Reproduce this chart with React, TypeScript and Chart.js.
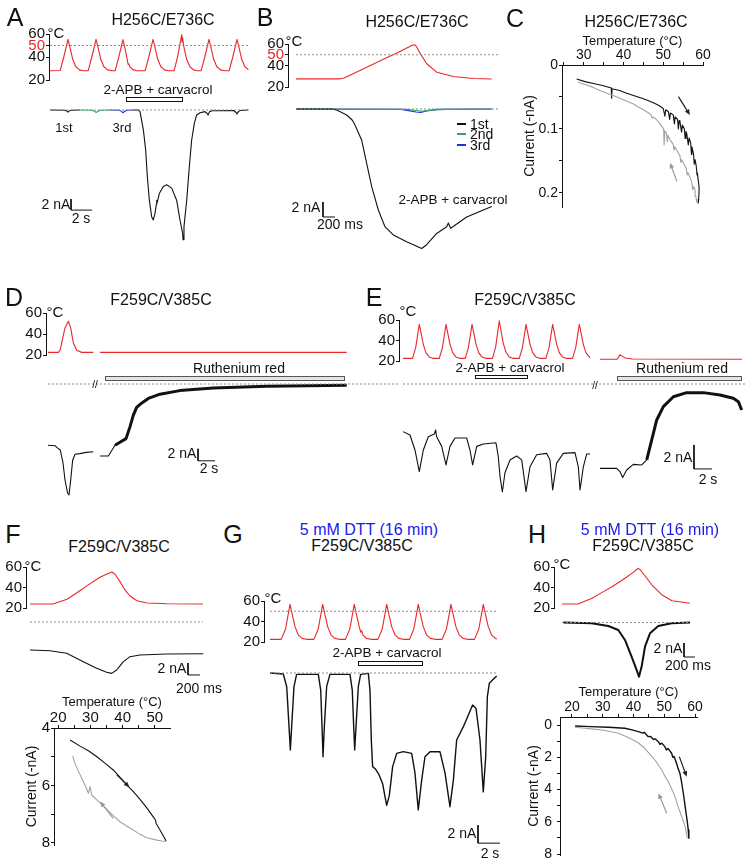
import React, { useEffect, useRef } from "react";
import { Chart, registerables } from "chart.js";

Chart.register(...registerables);

type Pt = [number, number];

const FONT = "'Liberation Sans', Arial, Helvetica, sans-serif";
Chart.defaults.font.family = FONT;
Chart.defaults.color = "#111";

const RED = "#e8282b";
const GREEN = "#2fa866";
const BLUE = "#1f33d6";
const BLACK = "#111111";
const GRAY = "#a3a3a3";
const DOTTED = "#8c8c8c";
const DTT_BLUE = "#1a1ae6";

// ---------- tick values ----------
const tempTicksRed50 = [20, 40, 50, 60];
const tempTicks = [20, 40, 60];
const redTickValues = [50];
const cTempTicks = [25, 30, 35, 40, 45, 50, 55, 60];
const cTempLabels = [30, 40, 50, 60];
const cCurTicks = [0, 0.05, 0.1, 0.15, 0.2];
const cCurLabels = [0, 0.1, 0.2];
const fTempTicks = [20, 25, 30, 35, 40, 45, 50];
const fTempLabels = [20, 30, 40, 50];
const fCurTicks = [4, 5, 6, 7, 8];
const fCurLabels = [4, 6, 8];
const hTempTicks = [20, 25, 30, 35, 40, 45, 50, 55, 60];
const hTempLabels = [20, 30, 40, 50, 60];
const hCurTicks = [0, 1, 2, 3, 4, 5, 6, 7, 8];
const hCurLabels = [0, 2, 4, 6, 8];

// ---------- Panel A : H256C/E736C (time s, °C, nA) ----------
const tempA: Pt[] = [
  [0, 28], [0.96, 28.2], [1.31, 40], [1.71, 55.4], [1.91, 48], [2.16, 38], [2.46, 31.5], [2.81, 28.8], [3.21, 28],
  [3.63, 28], [3.98, 40], [4.38, 55.4], [4.58, 48], [4.83, 38], [5.13, 31.5], [5.48, 28.8], [5.88, 28],
  [6.2, 28], [6.55, 40], [6.95, 55.2], [7.15, 47], [7.35, 38], [7.44, 33.5], [7.5, 34], [7.6, 31.5], [7.9, 29], [8.3, 28],
  [9.06, 28], [9.41, 40], [9.81, 55.4], [10.01, 48], [10.26, 38], [10.56, 31.5], [10.91, 28.8], [11.31, 28],
  [11.82, 28], [12.17, 41], [12.55, 59.5], [12.58, 53], [12.62, 57], [12.77, 48], [13.02, 38], [13.32, 31.5], [13.67, 28.8], [14.07, 28],
  [14.39, 28], [14.74, 40], [15.14, 55.4], [15.34, 48], [15.59, 38], [15.89, 31.5], [16.24, 28.8], [16.64, 28],
  [17.06, 28], [17.41, 40], [17.81, 55.4], [18.01, 48], [18.26, 38], [18.56, 31.5], [18.9, 29],
];
const curA1st: Pt[] = [[0, 0], [1.4, -0.05], [1.6, -0.2], [1.71, -0.4], [1.85, -0.15], [2.1, -0.05], [2.86, 0]];
const curA2nd: Pt[] = [[2.86, 0], [4.0, -0.05], [4.25, -0.25], [4.4, -0.45], [4.55, -0.25], [4.8, -0.05], [5.6, 0]];
const curA3rd: Pt[] = [[5.6, 0], [6.6, -0.05], [6.8, -0.25], [6.95, -0.5], [7.1, -0.25], [7.35, -0.05], [7.85, 0]];
const curADrug: Pt[] = [
  [7.85, 0], [8.4, 0], [8.57, -0.3], [8.89, -3.6], [9.11, -7.3], [9.27, -12.1], [9.46, -16.4], [9.68, -19.4], [9.84, -20],
  [10.0, -18.8], [10.12, -17.2], [10.16, -16.4], [10.2, -16.9], [10.41, -15.2], [10.79, -13.9], [11.11, -13.6], [11.59, -14.2],
  [12.06, -16.4], [12.38, -20], [12.63, -22.4], [12.67, -23.6], [12.76, -21.2], [13.02, -16.4], [13.27, -10.3], [13.49, -5.5],
  [13.75, -2.4], [13.97, -0.9], [14.29, -0.5], [14.76, -0.3], [14.95, -0.6], [15.05, -0.9], [15.2, -0.3], [15.43, -0.15],
  [17.5, -0.1], [17.7, -0.4], [17.81, -0.7], [17.95, -0.3], [18.1, -0.1], [18.9, 0],
];
const baseA: Pt[] = [[0, 0], [19.05, 0]];
const hotLineA: Pt[] = [[0, 50], [19.05, 50]];
const barA = { t: 2.0, i: -18.2, dt: 2, di: 2 };

// ---------- Panel B : H256C/E736C (time ms) ----------
const tempB: Pt[] = [
  [0, 27.6], [733, 27.6], [800, 28.3], [900, 31], [1100, 36.3], [1300, 41.6], [1500, 46.9], [1700, 52.2], [1880, 57.2],
  [1933, 58.8], [1975, 59.3], [2010, 57.5], [2067, 51.5], [2178, 41.6], [2345, 33.8], [2622, 29.8], [2955, 27.9], [3262, 27.4],
];
const curB1st: Pt[] = [
  [0, 0], [600, 0], [678, -0.13], [845, -0.8], [900, -1.2], [940, -1.5], [983, -2.13], [1094, -4.13], [1178, -7.24],
  [1262, -10.36], [1372, -13.47], [1483, -15.7], [1622, -16.8], [1845, -17.7], [2095, -18.6], [2178, -18.1],
  [2345, -16.6], [2512, -15.7], [2539, -15.2], [2578, -15.9], [2845, -14.4], [3262, -13.0],
];
const curB2nd: Pt[] = [[0, 0], [1850, -0.05], [2000, -0.2], [2100, -0.3], [2250, -0.15], [2500, -0.05], [3262, 0]];
const curB3rd: Pt[] = [[0, 0], [1750, -0.05], [1900, -0.25], [2000, -0.4], [2080, -0.45], [2180, -0.25], [2350, -0.05], [3262, 0]];
const baseB: Pt[] = [[0, 0], [3400, 0]];
const hotLineB: Pt[] = [[0, 50], [3400, 50]];
const barB = { t: 450, i: -14.4, dt: 200, di: 2 };

// ---------- Panel C : current vs temperature ----------
const cHeat: Pt[] = [
  [28.2, 0.022], [30.3, 0.026], [32.4, 0.029], [34.7, 0.032], [36.9, 0.036], [37.0, 0.052], [37.1, 0.037], [39, 0.04],
  [40.8, 0.044], [42.7, 0.048], [44.6, 0.052], [46, 0.055], [47.5, 0.059], [48.8, 0.063], [50, 0.068], [50.4, 0.08],
  [50.6, 0.07], [51.3, 0.073], [51.6, 0.085], [51.8, 0.075], [52.5, 0.078], [52.8, 0.092], [53, 0.081], [53.6, 0.085],
  [53.8, 0.1], [54, 0.087], [54.2, 0.089], [54.6, 0.105], [54.8, 0.094], [55.3, 0.1], [55.5, 0.115], [55.7, 0.104],
  [55.9, 0.107], [56.3, 0.125], [56.5, 0.114], [56.9, 0.122], [57.1, 0.14], [57.2, 0.128], [57.6, 0.138], [57.8, 0.155],
  [58, 0.148], [58.3, 0.158], [58.5, 0.172], [58.6, 0.169], [58.8, 0.18], [59, 0.19], [59.0, 0.2], [58.9, 0.21], [58.8, 0.216],
];
const cCool: Pt[] = [
  [58.8, 0.216], [58.4, 0.214], [58.2, 0.205], [58, 0.195], [57.6, 0.19], [57.4, 0.195], [57.2, 0.184], [56.7, 0.175],
  [56.2, 0.168], [56, 0.172], [55.8, 0.162], [55.1, 0.154], [54.6, 0.148], [54.4, 0.152], [54.2, 0.142], [53.4, 0.133],
  [52.9, 0.128], [52.7, 0.133], [52.5, 0.124], [51.7, 0.117], [51.2, 0.11], [51, 0.12], [50.8, 0.107], [50.4, 0.103],
  [50.2, 0.125], [50.1, 0.1], [50, 0.099], [49.2, 0.092], [48.4, 0.086], [47.5, 0.081], [47.2, 0.083], [46.8, 0.077],
  [45.8, 0.073], [44.5, 0.068], [43.8, 0.066], [42.5, 0.061], [41, 0.057], [39.1, 0.052], [37.5, 0.048], [35.8, 0.044],
  [34, 0.04], [32.4, 0.035], [30.5, 0.031], [29, 0.0276], [28.5, 0.026],
];
const cArrowHeat = { from: [53.8, 0.0495] as Pt, to: [56.7, 0.078] as Pt };
const cArrowCool = { from: [53.4, 0.182] as Pt, to: [51.7, 0.153] as Pt };

// ---------- Panel D : F259C/V385C (time s) ----------
const tempD1: Pt[] = [
  [0, 22.5], [1.22, 22.5], [1.45, 25], [1.61, 31.5], [2.0, 45.8], [2.39, 52.2], [2.67, 45.8], [2.98, 31.5], [3.37, 24.5],
  [3.96, 22.5], [5.33, 22.5],
];
const tempD2: Pt[] = [[6.12, 22.5], [35.14, 22.5]];
const curD1: Pt[] = [
  [0, -10.2], [0.86, -10.3], [1.06, -10.6], [1.45, -11], [1.77, -13.2], [2.0, -16], [2.31, -18.2], [2.47, -18.5],
  [2.67, -16], [2.9, -12.7], [3.18, -11.7], [3.76, -11.6], [4.5, -11.4], [5.33, -11.3],
];
const curD2Start: Pt[] = [[6.12, -12], [7.1, -12], [7.41, -11.3], [7.88, -10.2]];
const curD2RR: Pt[] = [
  [7.88, -10.2], [8.47, -9.7], [9.18, -9.1], [9.65, -7.1], [10.04, -5.2], [10.43, -3.9], [11.0, -3.2], [11.8, -2.4],
  [13.18, -1.7], [15.5, -1.1], [19.45, -0.67], [25.73, -0.39], [35.14, -0.22],
];
const baseD: Pt[] = [[0, 0], [41.2, 0]];
const barD = { t: 17.65, i: -12.8, dt: 2, di: 2 };

// ---------- Panel E : F259C/V385C (time s) ----------
const tempE1: Pt[] = [
  [0, 22.6], [1.06, 22.6], [1.41, 33], [1.81, 55.8], [2.01, 47], [2.26, 36], [2.56, 28], [2.91, 24], [3.31, 22.6],
  [4.03, 22.6], [4.38, 33], [4.78, 55.8], [4.98, 47], [5.23, 36], [5.53, 28], [5.88, 24], [6.28, 22.6],
  [6.92, 22.6], [7.27, 33], [7.67, 55.8], [7.87, 47], [8.12, 36], [8.42, 28], [8.77, 24], [9.17, 22.6],
  [9.95, 22.6], [10.3, 34], [10.7, 59.3], [10.9, 49], [11.15, 37], [11.45, 28.5], [11.8, 24], [12.2, 22.6],
  [12.92, 22.6], [13.27, 33], [13.67, 55.8], [13.87, 47], [14.12, 36], [14.42, 28], [14.77, 24], [15.17, 22.6],
  [15.88, 22.6], [16.23, 33], [16.63, 55.8], [16.83, 47], [17.08, 36], [17.38, 28], [17.73, 24], [18.13, 22.6],
  [18.84, 22.6], [19.19, 33], [19.59, 55.8], [19.79, 47], [20.04, 36], [20.34, 28], [20.78, 23],
];
const tempE2: Pt[] = [[21.89, 21.7], [23.8, 21.7], [24.0, 24.5], [24.1, 26], [24.3, 25], [24.7, 23], [25.5, 22], [37.67, 21.7]];
const curE1: Pt[] = [
  [0, -3.97], [0.78, -4.25], [1.33, -5.5], [1.81, -7.3], [2.26, -5.5], [2.81, -4.4], [3.48, -4.17], [3.63, -3.83],
  [3.74, -4.4], [4.3, -5.2], [4.78, -6.75], [5.22, -5.2], [5.78, -4.5], [7.07, -4.5], [7.44, -5.5], [7.74, -6.75],
  [8.19, -5.2], [8.93, -5.0], [10.33, -4.9], [10.59, -6.06], [10.78, -7.7], [11.04, -9.0], [11.33, -7.4], [11.89, -6.33],
  [12.63, -6.0], [13.19, -6.33], [13.67, -8.97], [14.11, -6.9], [14.85, -5.9], [15.96, -5.78], [16.33, -6.33],
  [16.63, -8.83], [17.07, -6.6], [17.81, -5.78], [19.11, -5.72], [19.48, -6.9], [19.67, -8.83], [20.04, -6.9],
  [20.41, -5.83], [20.78, -5.83],
];
const curE2Start: Pt[] = [
  [21.89, -7.03], [23.74, -7.03], [24.11, -7.3], [24.41, -7.8], [24.85, -7.17], [25.59, -6.7], [26.52, -6.75], [27.08, -6.33],
];
const curE2RR: Pt[] = [
  [27.08, -6.33], [27.63, -4.67], [28.19, -3.0], [28.93, -1.89], [30.04, -1.06], [31.52, -0.72], [33.37, -0.72],
  [35.22, -0.92], [36.7, -1.19], [37.26, -1.47], [37.63, -2.17],
];
const baseE: Pt[] = [[0, 0], [38.0, 0]];
const barE = { t: 32.33, i: -7.08, dt: 2, di: 2 };

// ---------- Panel F : F259C/V385C (time ms) ----------
const tempF: Pt[] = [
  [0, 23.9], [383, 23.9], [617, 28.5], [783, 34.9], [950, 41.8], [1167, 50], [1283, 53.2], [1367, 55.1], [1417, 52.9],
  [1500, 45.7], [1583, 37.6], [1667, 31.7], [1783, 27.1], [1950, 24.9], [2283, 24.2], [2883, 23.9],
];
const curF: Pt[] = [
  [0, -4.67], [333, -4.78], [611, -5.22], [889, -6.61], [1111, -7.72], [1278, -8.39], [1361, -8.56], [1444, -8.0],
  [1500, -7.3], [1556, -6.61], [1667, -5.78], [1833, -5.5], [2278, -5.33], [2889, -5.28],
];
const baseF: Pt[] = [[0, 0], [2883, 0]];
const barF = { t: 2633, i: -8.83, dt: 200, di: 2 };
const fHeat: Pt[] = [
  [23.7, 4.42], [26.8, 4.63], [29.5, 4.8], [32.0, 5.0], [34.5, 5.22], [37.1, 5.46], [39.2, 5.72], [41.3, 5.98],
  [43.4, 6.22], [45.4, 6.48], [47.5, 6.78], [49.5, 7.09], [50.2, 7.2], [50.4, 7.32], [51.6, 7.55], [52.6, 7.75], [53.5, 7.93],
];
const fCool: Pt[] = [
  [53.5, 7.95], [52.2, 7.93], [50.6, 7.9], [47.5, 7.82], [45.4, 7.7], [43.3, 7.55], [41.2, 7.41], [39.2, 7.26],
  [37.1, 7.05], [35.1, 6.83], [33.5, 6.66], [32.0, 6.5], [30.4, 6.33], [29.9, 6.04], [29.4, 6.27], [28.3, 5.98],
  [26.8, 5.63], [25.2, 5.23], [24.5, 4.97],
];
const fArrowHeat = { from: [38.2, 5.63] as Pt, to: [42.1, 6.06] as Pt };
const fArrowCool = { from: [37.1, 7.14] as Pt, to: [33.0, 6.56] as Pt };

// ---------- Panel G : 5 mM DTT, F259C/V385C (time s) ----------
const tempG: Pt[] = [
  [0, 22.6], [1.02, 22.6], [1.42, 33], [1.82, 56.8], [2.02, 47], [2.27, 35], [2.57, 27], [2.92, 23.5], [3.32, 22.6],
  [3.99, 22.6], [4.39, 33], [4.79, 56.8], [4.99, 47], [5.24, 35], [5.54, 27], [5.89, 23.5], [6.29, 22.6],
  [6.86, 22.6], [7.26, 33], [7.66, 56.8], [7.86, 47], [8.11, 35], [8.25, 29.5], [8.33, 31], [8.45, 27], [8.76, 23.5], [9.16, 22.6],
  [9.81, 22.6], [10.21, 33], [10.61, 56.8], [10.81, 47], [11.06, 35], [11.36, 27], [11.71, 23.5], [12.11, 22.6],
  [12.68, 22.6], [13.08, 33], [13.48, 56.8], [13.68, 47], [13.93, 35], [14.23, 27], [14.58, 23.5], [14.98, 22.6],
  [15.65, 22.6], [16.05, 33], [16.45, 56.8], [16.65, 47], [16.9, 35], [17.2, 27], [17.55, 23.5], [17.95, 22.6],
  [18.59, 22.6], [18.99, 33], [19.39, 56.8], [19.59, 47], [19.84, 35], [20.14, 27], [20.49, 23.5], [20.64, 23],
];
const curG: Pt[] = [
  [0, 0], [1.21, -0.11], [1.52, -1.52], [1.73, -5.96], [1.85, -8.56], [1.97, -5.96], [2.18, -1.52], [2.42, -0.15],
  [4.39, -0.15], [4.61, -1.89], [4.73, -5.96], [4.82, -9.3], [4.94, -5.96], [5.15, -1.52], [5.45, -0.15],
  [7.27, -0.15], [7.48, -1.89], [7.61, -5.96], [7.7, -8.56], [7.82, -5.96], [8.03, -1.52], [8.24, -0.15],
  [8.94, -0.04], [9.09, -1.89], [9.21, -7.44], [9.33, -10.4], [9.61, -10.7], [9.91, -11.3], [10.24, -12.3],
  [10.45, -13.7], [10.61, -14.7], [10.85, -13.6], [11.15, -10.4], [11.52, -8.93], [12.12, -8.74], [12.88, -8.93],
  [13.18, -11.1], [13.48, -15.2], [13.79, -11.9], [14.09, -9.3], [14.55, -8.74], [15.45, -8.74], [15.91, -11.1],
  [16.36, -14.85], [16.67, -11.9], [16.97, -7.44], [17.58, -5.96], [18.42, -3.56], [18.73, -3.93], [19.09, -7.44],
  [19.39, -13.2], [19.61, -9.3], [19.76, -2.63], [19.94, -1.15], [20.3, -0.7], [20.61, -0.33],
];
const baseG: Pt[] = [[0, 0], [20.64, 0]];
const hotLineG: Pt[] = [[0, 50], [20.64, 50]];
const barG = { t: 18.91, i: -18.9, dt: 2, di: 2 };

// ---------- Panel H : 5 mM DTT, F259C/V385C (time ms) ----------
const tempH: Pt[] = [
  [0, 23.9], [291, 23.9], [545, 29.5], [722, 35], [909, 40.8], [1145, 49], [1300, 55], [1382, 58.5], [1420, 57.5],
  [1473, 53.9], [1636, 42.4], [1818, 32.7], [2000, 27.1], [2327, 24.6],
];
const curH: Pt[] = [
  [24, 0], [539, -0.1], [842, -0.5], [1024, -1.07], [1145, -2.5], [1267, -4.9], [1358, -6.8], [1400, -7.74],
  [1448, -6.3], [1509, -3.46], [1600, -1.55], [1751, -0.5], [1994, -0.1], [2327, 0],
];
const baseH: Pt[] = [[0, 0], [2327, 0]];
const barH = { t: 2218, i: -4.93, dt: 200, di: 2 };
const hHeat: Pt[] = [
  [21.0, 0.06], [26, 0.1], [31.8, 0.14], [37.2, 0.2], [39.5, 0.3], [41.6, 0.41], [43, 0.5], [43.5, 0.45], [44.8, 0.72],
  [45.5, 0.7], [46.5, 0.9], [47, 0.85], [48.1, 1.03], [48.6, 1.2], [49.2, 1.12], [50.2, 1.34], [50.7, 1.55], [51.2, 1.45],
  [52.4, 1.75], [52.8, 2.0], [53.2, 1.95], [54.0, 2.37], [54.5, 2.7], [55.1, 2.99], [55.6, 3.5], [56.2, 4.23],
  [56.7, 4.9], [57.1, 5.47], [57.5, 6.0], [57.8, 6.51], [58.0, 7.02],
];
const hCool: Pt[] = [
  [57.5, 7.02], [56.8, 6.3], [56, 5.85], [55.1, 5.37], [54.3, 4.95], [53.5, 4.44], [52.4, 3.95], [51.3, 3.51],
  [50.3, 3.2], [49.2, 2.79], [48, 2.45], [47.0, 2.17], [45.3, 1.8], [43.7, 1.44], [41.5, 1.1], [39.4, 0.88],
  [37.2, 0.68], [35.1, 0.51], [32.4, 0.4], [29.7, 0.31], [27, 0.25], [24.2, 0.2], [21.0, 0.14],
];
const hArrowHeat = { from: [54.9, 1.96] as Pt, to: [57.3, 3.2] as Pt };
const hArrowCool = { from: [50.8, 5.47] as Pt, to: [48.1, 4.23] as Pt };

// ================= components =================
interface Line { data: Pt[]; color: string; width?: number; dash?: number[] }
interface Box { left: number; top: number; right: number; bottom: number }
interface Arrow { from: Pt; to: Pt; color: string }

const PAD = 12;
const AXW = 30;

function toDatasets(lines: Line[]) {
  return lines.map((l) => ({
    data: l.data.map(([x, y]) => ({ x, y })),
    showLine: true,
    borderColor: l.color,
    backgroundColor: l.color,
    borderWidth: l.width ?? 1.1,
    borderDash: l.dash ?? [],
    pointRadius: 0,
    pointHoverRadius: 0,
    tension: 0,
    clip: false,
    fill: false,
    borderJoinStyle: "round",
  }));
}

function scaleBar(b: { t: number; i: number; dt: number; di: number }): Line {
  return { data: [[b.t, b.i + b.di], [b.t, b.i], [b.t + b.dt, b.i]], color: BLACK, width: 1 };
}

const arrowPlugin = {
  id: "arrows",
  afterDatasetsDraw(chart: any, _args: any, opts: any) {
    const list: Arrow[] = (opts && opts.list) || [];
    const ctx = chart.ctx;
    const xs = chart.scales.x;
    const ys = chart.scales.y;
    for (const a of list) {
      const x1 = xs.getPixelForValue(a.from[0]);
      const y1 = ys.getPixelForValue(a.from[1]);
      const x2 = xs.getPixelForValue(a.to[0]);
      const y2 = ys.getPixelForValue(a.to[1]);
      const ang = Math.atan2(y2 - y1, x2 - x1);
      const hl = 6;
      ctx.save();
      ctx.strokeStyle = a.color;
      ctx.fillStyle = a.color;
      ctx.lineWidth = 1.2;
      ctx.beginPath();
      ctx.moveTo(x1, y1);
      ctx.lineTo(x2 - hl * 0.7 * Math.cos(ang), y2 - hl * 0.7 * Math.sin(ang));
      ctx.stroke();
      ctx.beginPath();
      ctx.moveTo(x2, y2);
      ctx.lineTo(x2 - hl * Math.cos(ang - 0.42), y2 - hl * Math.sin(ang - 0.42));
      ctx.lineTo(x2 - hl * Math.cos(ang + 0.42), y2 - hl * Math.sin(ang + 0.42));
      ctx.closePath();
      ctx.fill();
      ctx.restore();
    }
  },
};

function TraceChart(props: {
  box: Box; x: [number, number]; y: [number, number]; lines: Line[]; axisTicks?: number[]; redTicks?: number[];
}) {
  const { box, x, y, lines, axisTicks, redTicks = [] } = props;
  const ref = useRef<HTMLCanvasElement | null>(null);
  const leftSpace = axisTicks ? AXW : PAD;
  const w = leftSpace + (box.right - box.left) + PAD;
  const h = PAD + (box.bottom - box.top) + PAD;
  useEffect(() => {
    const yScale: any = axisTicks
      ? {
          type: "linear",
          position: "left",
          min: y[0],
          max: y[1],
          afterFit: (s: any) => { s.width = AXW; },
          afterBuildTicks: (s: any) => { s.ticks = axisTicks.map((v) => ({ value: v })); },
          border: { display: true, color: BLACK, width: 1 },
          grid: { display: true, drawOnChartArea: false, drawTicks: true, tickLength: 3, color: BLACK, lineWidth: 1 },
          ticks: {
            autoSkip: false,
            padding: 1,
            font: { size: 15, family: FONT, lineHeight: 1 },
            color: (c: any) => (redTicks.includes(c.tick && c.tick.value) ? RED : BLACK),
            callback: (v: any) => String(v),
          },
        }
      : { type: "linear", display: false, min: y[0], max: y[1] };
    const chart = new Chart(ref.current as HTMLCanvasElement, {
      type: "scatter",
      data: { datasets: toDatasets(lines) as any },
      options: {
        animation: false,
        responsive: false,
        events: [],
        layout: { padding: { left: axisTicks ? 0 : PAD, right: PAD, top: PAD, bottom: PAD } },
        plugins: { legend: { display: false }, tooltip: { enabled: false } },
        scales: { x: { type: "linear", display: false, min: x[0], max: x[1] }, y: yScale },
      } as any,
    });
    return () => chart.destroy();
  }, []);
  return (
    <canvas
      ref={ref}
      width={w}
      height={h}
      style={{ position: "absolute", left: box.left - leftSpace, top: box.top - PAD, width: w, height: h }}
    />
  );
}

function XYChart(props: {
  box: Box; x: [number, number]; y: [number, number]; xTicks: number[]; xLabels: number[]; yTicks: number[];
  yLabels: number[]; topH: number; leftW: number; yPad: number; tickSize: number; lines: Line[]; arrows: Arrow[];
}) {
  const { box, x, y, xTicks, xLabels, yTicks, yLabels, topH, leftW, yPad, tickSize, lines, arrows } = props;
  const ref = useRef<HTMLCanvasElement | null>(null);
  const w = leftW + (box.right - box.left) + PAD;
  const h = topH + (box.bottom - box.top) + PAD;
  useEffect(() => {
    const chart = new Chart(ref.current as HTMLCanvasElement, {
      type: "scatter",
      data: { datasets: toDatasets(lines) as any },
      plugins: [arrowPlugin],
      options: {
        animation: false,
        responsive: false,
        events: [],
        layout: { padding: { left: 0, top: 0, right: PAD, bottom: PAD } },
        plugins: { legend: { display: false }, tooltip: { enabled: false }, arrows: { list: arrows } },
        scales: {
          x: {
            type: "linear",
            position: "top",
            min: x[0],
            max: x[1],
            afterFit: (s: any) => { s.height = topH; },
            afterBuildTicks: (s: any) => { s.ticks = xTicks.map((v) => ({ value: v })); },
            border: { display: true, color: BLACK, width: 1 },
            grid: { display: true, drawOnChartArea: false, drawTicks: true, tickLength: 3, color: BLACK },
            ticks: {
              autoSkip: false,
              maxRotation: 0,
              padding: 0,
              color: BLACK,
              font: { size: tickSize, family: FONT, lineHeight: 1 },
              callback: (v: any) => (xLabels.includes(v) ? String(v) : ""),
            },
            title: { display: true, text: "Temperature (°C)", color: BLACK, font: { size: 13, family: FONT }, padding: 0 },
          },
          y: {
            type: "linear",
            position: "left",
            reverse: true,
            min: y[0],
            max: y[1],
            afterFit: (s: any) => { s.width = leftW; },
            afterBuildTicks: (s: any) => { s.ticks = yTicks.map((v) => ({ value: v })); },
            border: { display: true, color: BLACK, width: 1 },
            grid: { display: true, drawOnChartArea: false, drawTicks: true, tickLength: 3, color: BLACK },
            ticks: {
              autoSkip: false,
              padding: yPad,
              color: BLACK,
              font: { size: tickSize, family: FONT, lineHeight: 1 },
              callback: (v: any) => (yLabels.includes(v) ? String(v) : ""),
            },
            title: { display: true, text: "Current (-nA)", color: BLACK, font: { size: 14, family: FONT }, padding: 0 },
          },
        },
      } as any,
    });
    return () => chart.destroy();
  }, []);
  return (
    <canvas
      ref={ref}
      width={w}
      height={h}
      style={{ position: "absolute", left: box.left - leftW, top: box.top - topH, width: w, height: h }}
    />
  );
}

function T(props: { x: number; y: number; size?: number; color?: string; children: React.ReactNode }) {
  const { x, y, size = 14, color = BLACK, children } = props;
  return (
    <div
      style={{
        position: "absolute",
        left: x,
        top: y,
        transform: "translate(-50%, -50%)",
        whiteSpace: "nowrap",
        fontFamily: FONT,
        fontSize: size,
        lineHeight: 1,
        color,
      }}
    >
      {children}
    </div>
  );
}

function DrugBar(props: { left: number; top: number; width: number; height: number; gray?: boolean }) {
  const { left, top, width, height, gray } = props;
  return (
    <div
      style={{
        position: "absolute",
        left,
        top,
        width,
        height,
        boxSizing: "border-box",
        border: gray ? "1px solid #555" : "1px solid #111",
        background: gray ? "#e4e4e4" : "#fff",
      }}
    />
  );
}

function LegendRow(props: { x: number; y: number; color: string; label: string }) {
  const { x, y, color, label } = props;
  return (
    <div style={{ position: "absolute", left: x, top: y - 7, height: 14, display: "flex", alignItems: "center", fontFamily: FONT, fontSize: 14, lineHeight: 1, color: BLACK }}>
      <span style={{ display: "inline-block", width: 9, height: 1.5, background: color, marginRight: 4 }} />
      <span>{label}</span>
    </div>
  );
}

const dot = (data: Pt[]): Line => ({ data, color: DOTTED, width: 1, dash: [2, 2] });

export default function App() {
  return (
    <div style={{ position: "absolute", left: 0, top: 0, width: 750, height: 866, background: "#fff", overflow: "hidden" }}>
      {/* ===== A ===== */}
      <TraceChart box={{ left: 49, right: 250, top: 34, bottom: 80 }} x={[-0.1, 19.05]} y={[20, 60]}
        axisTicks={tempTicksRed50} redTicks={redTickValues}
        lines={[dot(hotLineA), { data: tempA, color: RED }]} />
      <TraceChart box={{ left: 49, right: 250, top: 104, bottom: 246 }} x={[-0.1, 19.05]} y={[-24.73, 1.09]}
        lines={[dot(baseA), { data: curA1st, color: BLACK }, { data: curA2nd, color: GREEN }, { data: curA3rd, color: BLUE },
          { data: curADrug, color: BLACK }, scaleBar(barA)]} />
      {/* ===== B ===== */}
      <TraceChart box={{ left: 288, right: 500, top: 44, bottom: 87 }} x={[-133, 3400]} y={[20, 60]}
        axisTicks={tempTicksRed50} redTicks={redTickValues}
        lines={[dot(hotLineB), { data: tempB, color: RED }]} />
      <TraceChart box={{ left: 288, right: 500, top: 100, bottom: 255 }} x={[-133, 3400]} y={[-19.47, 1.2]}
        lines={[dot(baseB), { data: curB1st, color: BLACK }, { data: curB2nd, color: GREEN }, { data: curB3rd, color: BLUE },
          scaleBar(barB)]} />
      {/* ===== C ===== */}
      <XYChart box={{ left: 562, right: 703, top: 65, bottom: 207 }} x={[24.5, 60]} y={[0, 0.222]}
        xTicks={cTempTicks} xLabels={cTempLabels} yTicks={cCurTicks} yLabels={cCurLabels}
        topH={31} leftW={40} yPad={1} tickSize={14}
        lines={[{ data: cCool, color: GRAY }, { data: cHeat, color: BLACK }]}
        arrows={[{ ...cArrowHeat, color: "#222" }, { ...cArrowCool, color: "#999" }]} />
      {/* ===== D ===== */}
      <TraceChart box={{ left: 46, right: 400, top: 313, bottom: 355 }} x={[-0.235, 41.41]} y={[20, 60]}
        axisTicks={tempTicks} lines={[{ data: tempD1, color: RED }, { data: tempD2, color: RED }]} />
      <TraceChart box={{ left: 46, right: 400, top: 378, bottom: 500 }} x={[-0.235, 41.41]} y={[-19.33, 1.0]}
        lines={[dot(baseD), { data: curD1, color: BLACK }, { data: curD2Start, color: BLACK },
          { data: curD2RR, color: BLACK, width: 3 }, scaleBar(barD)]} />
      {/* ===== E ===== */}
      <TraceChart box={{ left: 399, right: 745, top: 320, bottom: 361 }} x={[-0.444, 38.0]} y={[20, 60]}
        axisTicks={tempTicks} lines={[{ data: tempE1, color: RED }, { data: tempE2, color: RED }]} />
      <TraceChart box={{ left: 399, right: 745, top: 378, bottom: 500 }} x={[-0.444, 38.0]} y={[-9.67, 0.5]}
        lines={[dot(baseE), { data: curE1, color: BLACK }, { data: curE2Start, color: BLACK },
          { data: curE2RR, color: BLACK, width: 3 }, scaleBar(barE)]} />
      {/* ===== F ===== */}
      <TraceChart box={{ left: 26, right: 205, top: 567, bottom: 608 }} x={[-66.7, 2917]} y={[20, 60]}
        axisTicks={tempTicks} lines={[{ data: tempF, color: RED }]} />
      <TraceChart box={{ left: 26, right: 205, top: 615, bottom: 680 }} x={[-66.7, 2917]} y={[-9.67, 1.17]}
        lines={[dot(baseF), { data: curF, color: BLACK }, scaleBar(barF)]} />
      <XYChart box={{ left: 54, right: 170, top: 728, bottom: 845 }} x={[18.7, 54.7]} y={[4, 8.07]}
        xTicks={fTempTicks} xLabels={fTempLabels} yTicks={fCurTicks} yLabels={fCurLabels}
        topH={33} leftW={30} yPad={1} tickSize={15}
        lines={[{ data: fCool, color: GRAY }, { data: fHeat, color: BLACK }]}
        arrows={[{ ...fArrowHeat, color: "#222" }, { ...fArrowCool, color: "#999" }]} />
      {/* ===== G ===== */}
      <TraceChart box={{ left: 264, right: 500, top: 601, bottom: 642 }} x={[-0.545, 20.91]} y={[20, 60]}
        axisTicks={tempTicks} lines={[dot(hotLineG), { data: tempG, color: RED }]} />
      <TraceChart box={{ left: 264, right: 500, top: 665, bottom: 848 }} x={[-0.545, 20.91]} y={[-19.44, 0.89]}
        lines={[dot(baseG), { data: curG, color: BLACK, width: 1.4 }, scaleBar(barG)]} />
      {/* ===== H ===== */}
      <TraceChart box={{ left: 554, right: 700, top: 567, bottom: 608 }} x={[-145, 2509]} y={[20, 60]}
        axisTicks={tempTicks} lines={[{ data: tempH, color: RED }]} />
      <TraceChart box={{ left: 554, right: 700, top: 615, bottom: 682 }} x={[-145, 2509]} y={[-8.5, 1.07]}
        lines={[dot(baseH), { data: curH, color: BLACK, width: 2 }, scaleBar(barH)]} />
      <XYChart box={{ left: 560, right: 697, top: 717, bottom: 855 }} x={[16.1, 60.65]} y={[-0.5, 8.06]}
        xTicks={hTempTicks} xLabels={hTempLabels} yTicks={hCurTicks} yLabels={hCurLabels}
        topH={32} leftW={34} yPad={5} tickSize={14}
        lines={[{ data: hCool, color: GRAY }, { data: hHeat, color: BLACK, width: 1.4 }]}
        arrows={[{ ...hArrowHeat, color: "#222" }, { ...hArrowCool, color: "#999" }]} />

      {/* ===== panel letters ===== */}
      <T x={15} y={17} size={25}>A</T>
      <T x={265} y={17} size={25}>B</T>
      <T x={515} y={18} size={25}>C</T>
      <T x={14} y={297} size={25}>D</T>
      <T x={374} y={297} size={25}>E</T>
      <T x={13} y={534} size={25}>F</T>
      <T x={233} y={534} size={25}>G</T>
      <T x={537} y={534} size={25}>H</T>

      {/* ===== titles ===== */}
      <T x={163} y={20} size={16}>H256C/E736C</T>
      <T x={417} y={22} size={16}>H256C/E736C</T>
      <T x={636} y={22} size={16}>H256C/E736C</T>
      <T x={161} y={300} size={16}>F259C/V385C</T>
      <T x={525} y={300} size={16}>F259C/V385C</T>
      <T x={119} y={547} size={16}>F259C/V385C</T>
      <T x={369} y={530} size={16} color={DTT_BLUE}>5 mM DTT (16 min)</T>
      <T x={362} y={546} size={16}>F259C/V385C</T>
      <T x={650} y={530} size={16} color={DTT_BLUE}>5 mM DTT (16 min)</T>
      <T x={643} y={546} size={16}>F259C/V385C</T>

      {/* ===== °C units ===== */}
      <T x={56} y={32} size={15}>°C</T>
      <T x={294} y={40} size={15}>°C</T>
      <T x={55} y={311} size={15}>°C</T>
      <T x={408} y={310} size={15}>°C</T>
      <T x={33} y={565} size={15}>°C</T>
      <T x={273} y={597} size={15}>°C</T>
      <T x={562} y={563} size={15}>°C</T>

      {/* ===== A annotations ===== */}
      <T x={158} y={90} size={13.5}>2-APB + carvacrol</T>
      <DrugBar left={126} top={97} width={57} height={5} />
      <T x={64} y={127} size={13}>1st</T>
      <T x={122} y={127} size={13}>3rd</T>
      <T x={56} y={204} size={14}>2 nA</T>
      <T x={81} y={218} size={14}>2 s</T>

      {/* ===== B annotations ===== */}
      <LegendRow x={457} y={124} color={BLACK} label="1st" />
      <LegendRow x={457} y={134} color={GREEN} label="2nd" />
      <LegendRow x={457} y={145} color={BLUE} label="3rd" />
      <T x={453} y={200} size={13.5}>2-APB + carvacrol</T>
      <T x={306} y={207} size={14}>2 nA</T>
      <T x={340} y={224} size={14}>200 ms</T>

      {/* ===== D annotations ===== */}
      <T x={239} y={368} size={14}>Ruthenium red</T>
      <DrugBar left={105} top={376} width={240} height={5} gray />
      <T x={95} y={385} size={10}>//</T>
      <T x={182} y={453} size={14}>2 nA</T>
      <T x={209} y={468} size={14}>2 s</T>

      {/* ===== E annotations ===== */}
      <T x={510} y={368} size={13.5}>2-APB + carvacrol</T>
      <DrugBar left={475} top={375} width={53} height={4} />
      <T x={682} y={368} size={14}>Ruthenium red</T>
      <DrugBar left={617} top={376} width={125} height={5} gray />
      <T x={595} y={386} size={10}>//</T>
      <T x={678} y={457} size={14}>2 nA</T>
      <T x={708} y={479} size={14}>2 s</T>

      {/* ===== F annotations ===== */}
      <T x={172} y={668} size={14}>2 nA</T>
      <T x={199} y={688} size={14}>200 ms</T>

      {/* ===== G annotations ===== */}
      <T x={387} y={653} size={13.5}>2-APB + carvacrol</T>
      <DrugBar left={358} top={661} width={65} height={5} />
      <T x={462} y={833} size={14}>2 nA</T>
      <T x={490} y={853} size={14}>2 s</T>

      {/* ===== H annotations ===== */}
      <T x={668} y={648} size={14}>2 nA</T>
      <T x={688} y={665} size={14}>200 ms</T>
    </div>
  );
}
